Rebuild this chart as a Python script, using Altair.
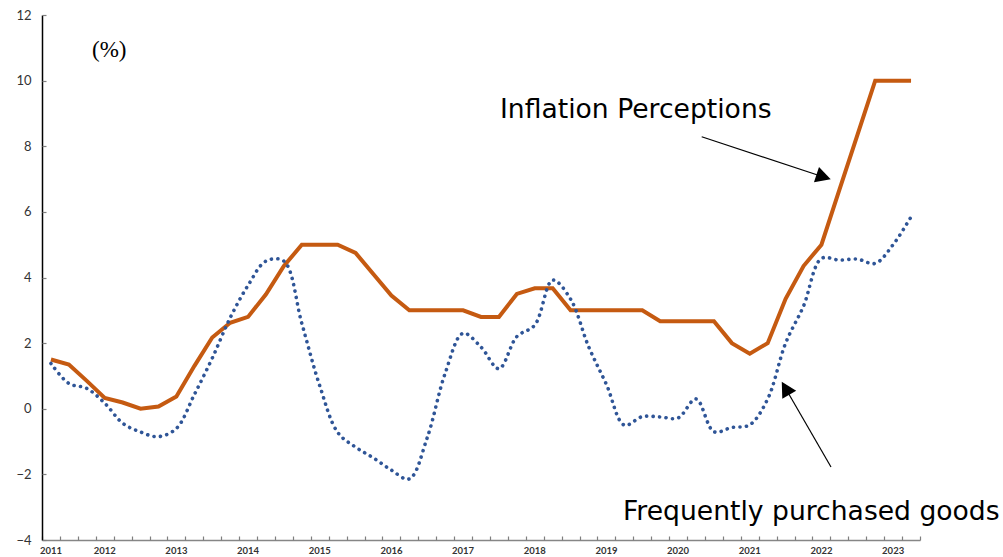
import altair as alt
import pandas as pd

quarters = [
    "2011Q2", "2011Q3", "2011Q4",
    "2012Q1", "2012Q2", "2012Q3", "2012Q4",
    "2013Q1", "2013Q2", "2013Q3", "2013Q4",
    "2014Q1", "2014Q2", "2014Q3", "2014Q4",
    "2015Q1", "2015Q2", "2015Q3", "2015Q4",
    "2016Q1", "2016Q2", "2016Q3", "2016Q4",
    "2017Q1", "2017Q2", "2017Q3", "2017Q4",
    "2018Q1", "2018Q2", "2018Q3", "2018Q4",
    "2019Q1", "2019Q2", "2019Q3", "2019Q4",
    "2020Q1", "2020Q2", "2020Q3", "2020Q4",
    "2021Q1", "2021Q2", "2021Q3", "2021Q4",
    "2022Q1", "2022Q2", "2022Q3", "2022Q4",
    "2023Q1", "2023Q2",
]

inflation_perceptions = [
    1.5, 1.35, 0.85,
    0.33, 0.19, 0.0, 0.07,
    0.37, 1.3, 2.17, 2.62,
    2.8, 3.49, 4.35, 5.0,
    5.0, 5.0, 4.75, 4.1,
    3.45, 3.0, 3.0, 3.0,
    3.0, 2.8, 2.8, 3.5,
    3.67, 3.67, 3.0, 3.0,
    3.0, 3.0, 3.0, 2.67,
    2.67, 2.67, 2.67, 2.0,
    1.68, 2.0, 3.35, 4.35,
    5.0, 6.67, 8.33, 10.0,
    10.0, 10.0,
]

frequently_purchased = [
    1.38, 0.77, 0.62,
    0.17, -0.44, -0.71, -0.85,
    -0.6, 0.43, 1.54, 2.77,
    3.76, 4.5, 4.5, 2.6,
    0.7, -0.72, -1.17, -1.5,
    -1.87, -2.14, -0.88, 1.08,
    2.3, 1.88, 1.22, 2.2,
    2.55, 3.92, 3.34, 1.9,
    0.74, -0.5, -0.24, -0.25,
    -0.28, 0.3, -0.7, -0.57,
    -0.49, 0.3, 2.0, 3.13,
    4.58, 4.53, 4.56, 4.43,
    5.0, 5.85,
]

y_ticks = [-4, -2, 0, 2, 4, 6, 8, 10, 12]

df = pd.DataFrame({
    "q": quarters,
    "perc": inflation_perceptions,
    "freq": frequently_purchased,
})

W, H = 878, 525

x_scale = alt.Scale(type="band", domain=quarters, paddingInner=0, paddingOuter=0)
y_scale = alt.Scale(domain=[-4, 12], nice=False, zero=False)

label_expr = ("slice(datum.value, 4) == 'Q1' || datum.value == '2011Q2' "
              "? slice(datum.value, 0, 4) : ''")

orange = alt.Chart(df).mark_line(color="#C55A11", strokeWidth=4).encode(
    x=alt.X("q:O", scale=x_scale, sort=None,
            axis=alt.Axis(orient="bottom", title=None, ticks=False,
                          labelExpr=label_expr, labelAngle=0, labelOverlap=False,
                          labelPadding=5, labelFont="Lato", labelFontSize=9.5,
                          labelFontWeight="bold", labelColor="#333333",
                          domainColor="#868686", domainWidth=1.5, grid=False)),
    y=alt.Y("perc:Q", scale=y_scale,
            axis=alt.Axis(orient="left", title=None, values=y_ticks, ticks=False,
                          labelPadding=11, labelFont="Lato", labelFontSize=13,
                          labelColor="#333333", domainColor="#000000",
                          domainWidth=1.5, grid=False)),
)

blue = alt.Chart(df).mark_line(
    color="#2F5597", strokeWidth=3.6, strokeDash=[0.1, 6.4],
    strokeCap="round", interpolate="catmull-rom",
).encode(
    x=alt.X("q:O", scale=x_scale, sort=None,
            axis=alt.Axis(orient="top", offset=-H, title=None, labels=False,
                          domain=False, ticks=True, tickBand="extent", tickSize=4,
                          tickColor="#7f7f7f", tickWidth=1.2, grid=False)),
    y=alt.Y("freq:Q", scale=y_scale,
            axis=alt.Axis(orient="right", offset=-W, title=None, labels=False,
                          domain=False, values=y_ticks, tickSize=4,
                          tickColor="#7f7f7f", tickWidth=1.2, grid=False)),
)

one = pd.DataFrame({"a": [0]})


def label(text, x, y, size, font):
    return alt.Chart(one).mark_text(
        text=text, align="left", baseline="alphabetic",
        font=font, fontSize=size, color="#000000",
    ).encode(x=alt.value(x), y=alt.value(y))


def arrow(x1, y1, x2, y2, ang):
    line = alt.Chart(one).mark_rule(color="#000000", strokeWidth=1.2).encode(
        x=alt.value(x1), y=alt.value(y1), x2=alt.value(x2), y2=alt.value(y2))
    head = alt.Chart(one).mark_point(
        shape="M0,-1L1.07,1L-1.07,1Z", size=225, filled=True,
        color="#000000", opacity=1, angle=ang,
    ).encode(x=alt.value(x2), y=alt.value(y2))
    return [line, head]


pct = label("(%)", 50, 42, 23, "Liberation Serif")
t1 = label("Inflation Perceptions", 458, 103, 26.6, "DejaVu Sans")
t2 = label("Frequently purchased goods", 581, 505, 26.6, "DejaVu Sans")

a1 = arrow(659.7, 121.7, 781.6, 162.0, 108.3)
a2 = arrow(789.0, 452.0, 743.5, 373.2, 330)

chart = alt.layer(orange, blue, pct, t1, t2, *a1, *a2).resolve_axis(
    x="independent", y="independent"
).properties(
    width=W, height=H,
    padding={"left": 42, "top": 15, "right": 83, "bottom": 17},
    autosize=alt.AutoSizeParams(type="none"),
    background="white",
).configure_view(stroke=None)

chart.save("out.html", embed_options={"renderer": "svg", "actions": False})
